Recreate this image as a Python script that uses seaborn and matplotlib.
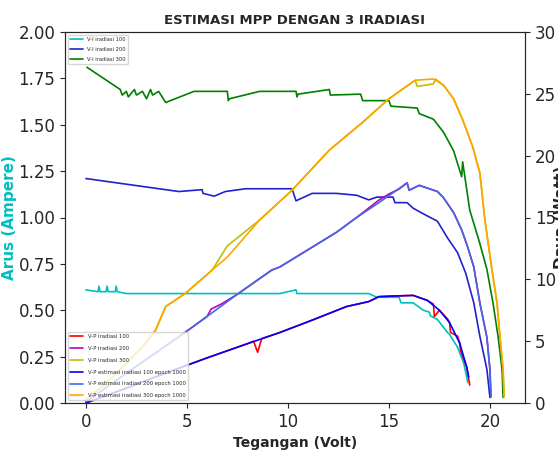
import matplotlib
matplotlib.use("Agg")
import matplotlib.pyplot as plt
import seaborn as sns
from matplotlib.ticker import FormatStrFormatter

# V-I curves (left axis, Ampere)
v_i100 = [0, 0.6, 0.65, 0.7, 1.0, 1.05, 1.1, 1.45, 1.5, 1.55, 2.0, 3.0, 5.0, 7.0, 9.6, 10.4, 10.45, 12.0, 14.0, 14.4,
          15.5, 15.6, 16.2, 16.7, 17.0, 17.05, 17.4, 17.9, 18.0, 18.4, 18.7, 18.85, 18.9]
i_i100 = [0.61, 0.60, 0.63, 0.60, 0.60, 0.63, 0.60, 0.60, 0.63, 0.60, 0.59, 0.59, 0.59, 0.59, 0.59, 0.61, 0.59, 0.59, 0.59, 0.57,
          0.57, 0.54, 0.54, 0.50, 0.49, 0.47, 0.45, 0.38, 0.37, 0.30, 0.215, 0.14, 0.11]

v_i200 = [0, 4.6, 5.75, 5.8, 6.35, 6.9, 7.9, 10.2, 10.4, 10.5, 11.2, 12.4, 13.4, 14.0, 14.4, 15.2, 15.3, 15.9, 16.2,
          16.7, 17.4, 17.9, 18.4, 18.8, 19.2, 19.5, 19.85, 20.0]
i_i200 = [1.21, 1.14, 1.15, 1.13, 1.115, 1.14, 1.155, 1.155, 1.09, 1.095, 1.13, 1.13, 1.12, 1.095, 1.11, 1.11, 1.08, 1.08, 1.05,
          1.02, 0.98, 0.89, 0.81, 0.70, 0.54, 0.36, 0.18, 0.03]

v_i300 = [0.05, 1.7, 1.8, 2.0, 2.1, 2.4, 2.5, 2.8, 3.0, 3.2, 3.3, 3.6, 3.95, 5.35, 7.0, 7.05, 7.1, 8.6, 10.4, 10.45, 10.5,
          12.05, 12.1, 13.6, 13.7, 15.0, 15.1, 16.4, 16.5, 17.2, 17.7, 18.2, 18.6, 18.65, 19.0, 19.5, 19.85, 20.15, 20.4,
          20.6, 20.65]
i_i300 = [1.81, 1.69, 1.66, 1.68, 1.65, 1.69, 1.66, 1.68, 1.64, 1.69, 1.66, 1.68, 1.62, 1.68, 1.68, 1.63, 1.64, 1.68, 1.68,
          1.65, 1.665, 1.69, 1.66, 1.665, 1.63, 1.63, 1.60, 1.59, 1.56, 1.53, 1.46, 1.36, 1.22, 1.30, 1.04, 0.86, 0.72, 0.54,
          0.36, 0.18, 0.03]

# V-P curves (right axis, Watt)
v_p100 = [0, 2, 4, 6, 8, 8.3, 8.5, 8.7, 9.6, 11.2, 12.9, 14.0, 14.5, 15.2, 16.2, 16.9, 17.2, 17.25, 17.5, 17.9, 18.0,
          18.05, 18.4, 18.5, 18.55, 18.85, 19.0]
p_100 = [0, 1.2, 2.45, 3.65, 4.8, 5.0, 4.1, 5.2, 5.7, 6.7, 7.8, 8.2, 8.6, 8.65, 8.7, 8.3, 8.0, 7.0, 7.5, 6.8, 6.5,
         5.7, 5.4, 4.85, 4.2, 2.9, 1.45]

v_p200 = [0, 2, 4.9, 6.0, 6.2, 6.7, 7.5, 9.2, 9.6, 11.2, 12.4, 13.4, 14.5, 15.0, 15.5, 15.9, 16.0, 16.5, 17.4, 17.7,
          18.2, 18.6, 18.9, 19.2, 19.5, 19.85, 20.0, 20.05]
p_200 = [0.1, 2.4, 5.7, 7.0, 7.6, 8.0, 8.8, 10.75, 11.0, 12.6, 13.8, 15.0, 16.4, 16.9, 17.3, 17.8, 17.2, 17.6, 17.1, 16.6,
         15.4, 14.0, 12.6, 11.0, 8.1, 5.3, 2.7, 0.5]

v_p300 = [0, 1, 2, 3, 3.45, 3.95, 4.95, 6.25, 7.0, 8.6, 10.2, 12.05, 13.7, 15.0, 16.3, 16.4, 17.2, 17.3, 17.7, 18.2,
          18.65, 19.15, 19.5, 19.75, 20.1, 20.35, 20.5, 20.65, 20.7]
p_300 = [0.3, 1.6, 3.2, 4.9, 5.9, 7.8, 8.9, 10.75, 12.7, 14.8, 17.2, 20.45, 22.7, 24.6, 26.1, 25.6, 25.8, 26.2, 25.7, 24.6,
         22.9, 20.7, 18.6, 14.8, 10.75, 8.1, 5.3, 2.7, 0.5]

# estimasi (epoch 1000)
v_e100 = [0, 2, 4, 6, 8, 9.6, 11.2, 12.9, 14.0, 14.5, 15.2, 16.2, 16.9, 17.5, 18.0, 18.5, 18.85, 18.95]
p_e100 = [0, 1.2, 2.45, 3.65, 4.8, 5.7, 6.7, 7.8, 8.2, 8.6, 8.65, 8.7, 8.3, 7.5, 6.5, 4.85, 2.9, 2.1]

v_e200 = [0, 2, 4.9, 6.0, 7.5, 9.2, 9.6, 11.2, 12.4, 13.4, 14.5, 15.9, 16.0, 16.5, 17.4, 17.7, 18.2, 18.6, 18.9,
          19.2, 19.5, 19.85, 20.0, 20.05]
p_e200 = [0.1, 2.4, 5.7, 7.0, 8.8, 10.75, 11.0, 12.6, 13.8, 15.0, 16.2, 17.8, 17.2, 17.6, 17.1, 16.6, 15.4, 14.0, 12.6,
          11.0, 8.1, 5.3, 2.7, 0.5]

v_e300 = [0, 1, 2, 3, 3.45, 3.95, 4.95, 6.25, 7.0, 8.6, 10.2, 12.05, 13.7, 15.0, 16.3, 17.2, 17.7, 18.2, 18.65, 19.15,
          19.5, 19.75, 20.1, 20.35, 20.5, 20.65, 20.7]
p_e300 = [0.3, 1.6, 3.2, 4.9, 5.9, 7.8, 8.9, 10.75, 11.8, 14.8, 17.2, 20.45, 22.7, 24.6, 26.1, 26.2, 25.7, 24.6, 22.9,
          20.7, 18.6, 14.8, 10.75, 8.1, 5.3, 2.7, 0.5]

sns.set_style("ticks")

fig = plt.figure(figsize=(5.58, 4.53), dpi=100)
ax1 = fig.add_axes([65 / 558, 50 / 453, 460 / 558, 371 / 453])
ax2 = ax1.twinx()

lw = 1.2
sns.lineplot(x=v_i100, y=i_i100, ax=ax1, color="c", lw=lw, sort=False, estimator=None, label="V-I iradiasi 100")
sns.lineplot(x=v_i200, y=i_i200, ax=ax1, color="#2222cc", lw=lw, sort=False, estimator=None, label="V-I iradiasi 200")
sns.lineplot(x=v_i300, y=i_i300, ax=ax1, color="g", lw=lw, sort=False, estimator=None, label="V-I iradiasi 300")

sns.lineplot(x=v_p100, y=p_100, ax=ax2, color="r", lw=lw, sort=False, estimator=None, label="V-P iradiasi 100")
sns.lineplot(x=v_p200, y=p_200, ax=ax2, color="m", lw=lw, sort=False, estimator=None, label="V-P iradiasi 200")
sns.lineplot(x=v_p300, y=p_300, ax=ax2, color="y", lw=lw, sort=False, estimator=None, label="V-P iradiasi 300")
sns.lineplot(x=v_e100, y=p_e100, ax=ax2, color="b", lw=lw, sort=False, estimator=None,
             label="V-P estimasi iradiasi 100 epoch 1000")
sns.lineplot(x=v_e200, y=p_e200, ax=ax2, color="royalblue", lw=lw, sort=False, estimator=None,
             label="V-P estimasi iradiasi 200 epoch 1000")
sns.lineplot(x=v_e300, y=p_e300, ax=ax2, color="orange", lw=lw, sort=False, estimator=None,
             label="V-P estimasi iradiasi 300 epoch 1000")

ax1.set_ylim(0, 2)
ax2.set_ylim(0, 30)
ax1.yaxis.set_major_formatter(FormatStrFormatter("%.2f"))
ax1.tick_params(labelsize=12)
ax2.tick_params(labelsize=12)

ax1.set_xlabel("Tegangan (Volt)", fontsize=10, fontweight="bold")
ax1.set_ylabel("Arus (Ampere)", fontsize=11, fontweight="bold", color="c", labelpad=1)
ax2.set_ylabel("Daya (Watt)", fontsize=11, fontweight="bold", labelpad=-1)
ax1.set_title("ESTIMASI MPP DENGAN 3 IRADIASI", fontsize=9.5, fontweight="bold",
              family=["Liberation Sans Narrow", "DejaVu Sans"])

ax1.legend(loc="upper left", fontsize=3.7, labelspacing=1.0, handlelength=2.6)
ax2.legend(loc="lower left", fontsize=3.8, labelspacing=1.3, handlelength=2.6)

fig.savefig("out.png", dpi=100)
